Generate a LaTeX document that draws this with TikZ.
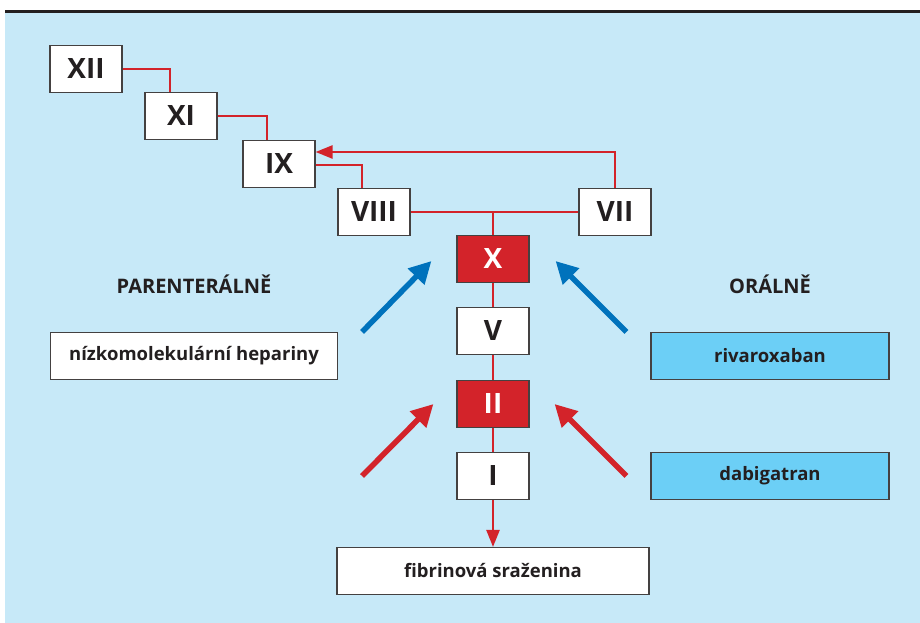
\documentclass[tikz,border=0pt]{standalone}
\usepackage{fontspec}
\setmainfont{Open Sans}
\usetikzlibrary{positioning,arrows.meta}
\definecolor{panel}{RGB}{199,233,248}
\definecolor{facred}{RGB}{211,35,42}
\definecolor{oralblue}{RGB}{108,207,246}
\definecolor{arrblue}{RGB}{0,114,188}
\definecolor{ink}{RGB}{35,31,32}

\begin{document}
\begin{tikzpicture}[x=1pt, y=1pt, on grid]
\tikzstyle{fac}=[draw=ink!85, line width=1.1pt, fill=white, text=ink, minimum width=72pt, minimum height=47pt, inner sep=0pt, font=\fontsize{28}{31}\selectfont\bfseries]
\tikzstyle{act}=[fac, fill=facred, text=white]
\tikzstyle{drug}=[draw=ink!85, line width=1.1pt, fill=white, text=ink, minimum height=47pt, inner sep=0pt, font=\fontsize{18.5}{21}\selectfont\bfseries]
\tikzstyle{oral}=[drug, fill=oralblue]
\tikzstyle{route}=[text=ink, font=\fontsize{20}{23}\selectfont\bfseries]
\tikzstyle{link}=[draw=facred, line width=2.4pt]
\tikzstyle{tip}=[-{Triangle[length=17pt,width=13pt]}]
\tikzstyle{inhib}=[line width=5.5pt, -{Triangle[length=22pt,width=22pt]}]
% panel
\useasboundingbox (0,0) rectangle (920,623);
\fill[panel] (5,0) rectangle (920,611);
\fill[ink] (5,610) rectangle (920,613);
% cascade
\node[fac]  (XII) at (86,554)                         {XII};
\node[fac]  (XI)   [below right=47pt and 95pt of XII]  {XI};
\node[fac]  (IX)   [below right=48pt and 98pt of XI]   {IX};
\node[fac]  (VIII) [below right=48pt and 95pt of IX]   {VIII};
\node[fac]  (VII)  [right=241pt of VIII]               {VII};
\node[act]  (X)    [below right=47pt and 119pt of VIII] {X};
\node[fac]  (V)    [below=72pt of X]                   {V};
\node[act]  (II)   [below=73pt of V]                   {II};
\node[fac]  (I)    [below=72pt of II]                  {I};
\node[drug, minimum width=312pt] (fib) [below=95pt of I] {fibrinová sraženina};
% drugs
\node[drug, minimum width=287pt] (hep)  [below left=25pt and 299pt of V]  {nízkomolekulární hepariny};
\node[oral, minimum width=238pt] (riva) [below right=25pt and 277pt of V] {rivaroxaban};
\node[oral, minimum width=238pt] (dabi) [right=277pt of I]                {dabigatran};
\node[route] (par) [above=72pt of hep]  {PARENTERÁLNĚ};
\node[route] (ora) [above=72pt of riva] {ORÁLNĚ};
% links
\draw[link] (XII.east) -| ([xshift=-11pt]XI.north);
\draw[link] (XI.east) -| ([xshift=-12pt]IX.north);
\draw[link] ([yshift=-1pt]IX.east) -| ([xshift=-12pt]VIII.north);
\draw[link, tip] (VII.north) |- ([yshift=12pt]IX.east);
\draw[link] (VIII.east) -- (VII.west);
\coordinate (join) at (X.north |- VIII.east);
\draw[link] (join) -- (X.north);
\draw[link] (X.south) -- (V.north);
\draw[link] (V.south) -- (II.north);
\draw[link] (II.south) -- (I.north);
\draw[link, tip] (I.south) -- (fib.north);
% inhibitors
\coordinate (hepTo)  at ([xshift=-25pt,yshift=-2pt]X.west);
\coordinate (rivaTo) at ([xshift=26pt,yshift=-2pt]X.east);
\coordinate (hepFrom)  at ([xshift=24pt]hep.north east);
\coordinate (rivaFrom) at ([xshift=-24pt]riva.north west);
\coordinate (leftTo)   at ([xshift=-23pt]II.west);
\coordinate (dabiTo)   at ([xshift=25pt]II.east);
\coordinate (leftFrom) at ([xshift=-131pt]I.center);
\coordinate (dabiFrom) at ([xshift=-24pt]dabi.west);
\draw[inhib, arrblue] (hepFrom) -- (hepTo);
\draw[inhib, arrblue] (rivaFrom) -- (rivaTo);
\draw[inhib, facred] (leftFrom) -- (leftTo);
\draw[inhib, facred] (dabiFrom) -- (dabiTo);
\end{tikzpicture}
\end{document}
